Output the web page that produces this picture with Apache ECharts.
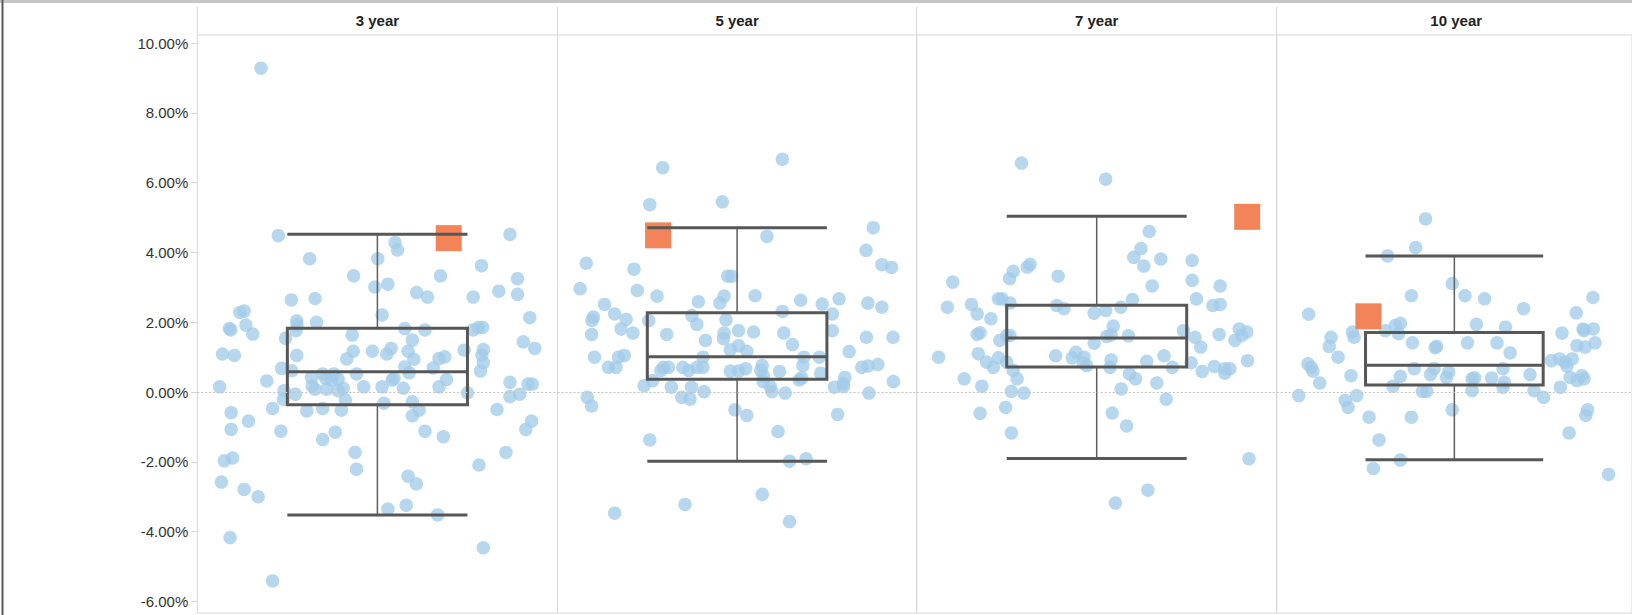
<!DOCTYPE html>
<html>
<head>
<meta charset="utf-8">
<title>Fund returns by horizon</title>
<script src="https://cdn.jsdelivr.net/npm/echarts@6/dist/echarts.min.js"></script>
<style>
  html, body { margin: 0; padding: 0; background: #ffffff; }
  #chart { width: 1632px; height: 615px; }
</style>
</head>
<body>
<div id="chart"></div>
<script>
// Panel titles, one per return horizon
const horizons = ['3 year', '5 year', '7 year', '10 year'];

// Y tick values (annualised return, %)
const yTickValues = [-6, -4, -2, 0, 2, 4, 6, 8, 10];

// Peer funds: [horizontal jitter position 0-100, return %]
const funds3y = [
  [17.7,9.28],[22.5,4.48],[86.8,4.52],[54.9,4.28],[55.6,4.07],[31.2,3.82],[50.1,3.82],[78.9,3.62],
  [43.4,3.33],[67.5,3.33],[88.9,3.25],[49.3,3.01],[52.9,3.09],[60.9,2.85],[63.9,2.72],[83.7,2.89],
  [88.9,2.80],[76.6,2.72],[26.1,2.64],[32.7,2.68],[11.8,2.28],[13.0,2.32],[92.3,2.13],[51.3,2.21],
  [27.6,2.04],[27.7,1.92],[27.4,1.76],[33.1,2.00],[8.9,1.82],[9.3,1.78],[13.5,1.92],[15.4,1.66],
  [24.5,1.54],[43.0,1.63],[57.6,1.82],[63.2,1.78],[59.7,1.49],[76.6,1.78],[78.0,1.85],[79.2,1.85],
  [90.5,1.44],[93.7,1.25],[7.0,1.09],[10.3,1.05],[27.6,1.05],[43.3,1.17],[41.5,0.95],[48.6,1.17],
  [52.6,1.09],[53.8,1.25],[58.5,1.17],[60.1,0.94],[67.1,0.96],[68.7,1.01],[65.5,0.69],[74.1,1.20],
  [79.4,1.22],[79.0,1.06],[79.4,0.84],[78.6,0.60],[57.6,0.72],[58.8,0.55],[23.4,0.68],[26.2,0.61],
  [19.3,0.32],[6.2,0.15],[31.7,0.42],[34.8,0.52],[37.9,0.52],[35.7,0.39],[37.3,0.34],[39.1,0.37],
  [44.2,0.52],[31.9,0.17],[32.7,0.08],[35.9,0.08],[39.1,0.04],[40.5,0.11],[46.2,0.15],[51.3,0.15],
  [54.1,0.34],[54.6,0.39],[57.2,0.11],[67.1,0.15],[69.2,0.36],[75.0,-0.02],[86.8,0.28],[91.8,0.23],
  [93.0,0.23],[89.5,-0.06],[86.8,-0.13],[24.1,0.04],[23.9,-0.21],[27.2,-0.06],[41.1,-0.23],[20.9,-0.47],
  [30.4,-0.54],[34.8,-0.47],[40.0,-0.52],[51.8,-0.32],[59.7,-0.28],[61.6,-0.52],[59.7,-0.68],[83.2,-0.50],
  [9.4,-0.59],[14.2,-0.83],[9.4,-1.07],[23.2,-1.12],[34.8,-1.36],[38.3,-1.15],[63.2,-1.12],[68.3,-1.28],
  [92.8,-0.83],[91.2,-1.07],[85.7,-1.73],[43.8,-1.73],[44.2,-2.21],[78.2,-2.09],[7.5,-1.97],[9.8,-1.89],
  [6.7,-2.58],[13.0,-2.79],[16.9,-3.00],[58.5,-2.41],[60.8,-2.63],[52.9,-3.35],[58.0,-3.24],[66.7,-3.52],
  [9.1,-4.17],[79.4,-4.46],[20.9,-5.41]
];

const funds5y = [
  [29.3,6.43],[62.6,6.67],[25.7,5.37],[45.9,5.45],[58.3,4.46],[87.9,4.71],[85.9,4.06],[90.3,3.65],
  [93.0,3.57],[8.0,3.69],[21.3,3.52],[6.3,2.96],[22.2,2.91],[27.7,2.75],[13.1,2.51],[39.2,2.59],
  [46.4,2.75],[45.2,2.55],[47.4,3.32],[48.5,3.32],[55.0,2.76],[67.7,2.63],[73.7,2.52],[78.4,2.67],
  [86.4,2.55],[90.3,2.43],[62.6,2.31],[76.5,2.24],[10.0,2.15],[15.9,2.24],[19.1,2.08],[37.4,2.19],
  [46.9,2.07],[9.6,2.05],[17.7,1.81],[21.0,1.69],[25.4,2.05],[38.8,1.94],[76.5,1.76],[9.5,1.65],
  [30.4,1.65],[41.2,1.48],[46.4,1.69],[46.2,1.53],[50.4,1.76],[54.6,1.72],[63.0,1.69],[65.4,1.36],
  [86.0,1.57],[93.4,1.57],[81.2,1.16],[10.3,1.00],[17.0,1.00],[18.6,1.05],[14.2,0.71],[16.3,0.71],
  [40.5,1.00],[48.1,1.21],[50.4,1.33],[52.7,1.17],[68.6,1.00],[72.9,1.00],[68.3,0.76],[73.3,0.54],
  [80.0,0.42],[84.7,0.71],[86.5,0.75],[89.2,0.79],[93.5,0.30],[29.5,0.71],[30.9,0.71],[28.8,0.62],
  [34.9,0.71],[36.5,0.62],[38.8,0.71],[40.5,0.71],[48.1,0.60],[50.4,0.60],[52.4,0.67],[57.0,0.76],
  [56.6,0.62],[57.3,0.47],[61.8,0.59],[57.3,0.30],[59.2,0.16],[59.7,0.01],[63.4,-0.03],[67.3,0.35],
  [68.0,0.40],[77.1,0.14],[79.6,0.16],[79.6,0.24],[86.7,-0.03],[24.1,0.18],[26.5,0.33],[31.7,0.14],
  [37.3,0.14],[40.8,0.01],[34.6,-0.15],[36.9,-0.20],[8.3,-0.15],[9.5,-0.40],[49.4,-0.51],[52.7,-0.67],
  [78.0,-0.64],[61.4,-1.13],[25.7,-1.37],[64.6,-1.98],[69.2,-1.91],[57.0,-2.93],[35.5,-3.22],[15.9,-3.47],
  [64.6,-3.71]
];

const funds7y = [
  [29.1,6.56],[52.5,6.10],[64.6,4.60],[62.3,4.11],[60.3,3.86],[63.1,3.61],[67.8,3.81],[76.5,3.77],
  [30.7,3.58],[31.5,3.66],[26.8,3.46],[25.8,3.25],[10.0,3.15],[39.3,3.32],[76.5,3.20],[65.4,3.04],
  [84.3,3.04],[8.5,2.43],[15.2,2.51],[16.8,2.24],[20.6,2.10],[22.7,2.67],[23.7,2.67],[25.9,2.55],
  [38.9,2.48],[40.9,2.39],[49.3,2.26],[52.5,2.34],[56.7,2.43],[59.9,2.65],[77.7,2.67],[82.3,2.48],
  [84.3,2.51],[54.6,1.89],[16.8,1.65],[17.6,1.70],[23.1,1.48],[25.0,1.62],[25.9,1.62],[6.1,1.00],
  [17.1,1.10],[19.4,0.86],[21.3,0.71],[22.7,0.98],[25.0,0.86],[26.8,0.62],[27.9,0.38],[13.2,0.38],
  [18.1,0.17],[26.3,0.02],[29.8,-0.03],[17.6,-0.61],[24.7,-0.44],[26.3,-1.17],[49.3,1.40],[52.8,1.59],
  [54.0,1.64],[58.8,1.61],[38.6,1.04],[44.2,1.14],[43.2,0.98],[46.5,1.00],[47.2,0.76],[46.3,0.83],
  [54.0,0.92],[53.7,0.71],[63.9,0.88],[68.7,1.04],[71.0,0.71],[59.1,0.52],[60.8,0.38],[66.7,0.26],
  [56.8,0.09],[69.3,-0.20],[54.3,-0.60],[58.3,-0.97],[74.1,1.76],[77.3,1.57],[78.9,1.29],[84.0,1.65],
  [89.6,1.81],[91.7,1.72],[88.4,1.48],[90.3,1.62],[76.2,0.84],[79.3,0.59],[82.7,0.73],[85.6,0.67],
  [87.0,0.67],[85.6,0.54],[91.9,0.90],[92.3,-1.91],[64.2,-2.81],[55.2,-3.18]
];

const funds10y = [
  [41.9,4.96],[39.1,4.14],[31.2,3.90],[49.4,3.11],[53.0,2.76],[58.5,2.67],[37.9,2.76],[69.5,2.39],
  [89.0,2.71],[84.3,2.27],[9.0,2.23],[34.8,1.97],[33.4,1.91],[34.3,1.67],[30.6,1.76],[56.2,1.94],
  [64.4,1.86],[21.3,1.72],[21.8,1.57],[15.3,1.57],[14.8,1.31],[17.3,1.00],[8.8,0.81],[9.7,0.71],
  [10.2,0.60],[12.1,0.26],[20.9,0.47],[22.5,-0.10],[19.3,-0.24],[20.1,-0.44],[6.2,-0.10],[26.0,-0.72],
  [37.9,-0.72],[28.8,-1.37],[34.8,-1.95],[27.2,-2.19],[49.4,-0.51],[38.2,1.41],[45.0,1.31],[44.6,1.27],
  [53.7,1.41],[62.0,1.41],[65.7,1.12],[38.7,0.67],[34.8,0.45],[32.7,0.17],[44.3,0.67],[43.3,0.50],
  [48.4,0.57],[47.8,0.42],[41.0,0.02],[42.2,0.02],[55.0,0.38],[55.7,0.41],[55.0,0.04],[60.5,0.40],
  [63.7,0.67],[64.1,0.28],[63.7,0.14],[71.3,0.50],[72.4,0.04],[75.1,-0.15],[80.3,1.69],[86.2,1.81],
  [89.1,1.81],[86.5,1.76],[84.5,1.33],[86.8,1.29],[89.6,1.41],[77.3,0.90],[79.6,0.95],[81.2,0.86],
  [81.7,0.74],[83.2,0.95],[82.6,0.42],[84.5,0.33],[85.9,0.47],[86.5,0.38],[79.8,0.14],[87.5,-0.51],
  [87.0,-0.67],[82.3,-1.17],[93.4,-2.36]
];

// Box plot summary per horizon: [lower whisker, Q1, median, Q3, upper whisker]
const boxStats = [
  [-3.52, -0.36, 0.58, 1.83, 4.52],
  [-1.98,  0.37, 1.01, 2.27, 4.71],
  [-1.90,  0.72, 1.55, 2.49, 5.04],
  [-1.94,  0.20, 0.77, 1.71, 3.90]
];

// Highlighted fund per horizon: [horizontal position 0-100, return %]
const highlighted = [[69.8, 4.41], [28.0, 4.49], [91.8, 5.02], [25.8, 2.17]];

// ---- layout ----
const panelLeft = [197.3, 557.5, 916.7, 1276.7];
const panelWidth = [360.2, 359.2, 360.0, 359.0];
const plotTop = 35;
const plotHeight = 578;
const yMin = -6.33;
const yMax = 10.23;
const FONT = '"Liberation Sans", Arial, Helvetica, sans-serif';

const fundSeries = [funds3y, funds5y, funds7y, funds10y];

const grid = panelLeft.map((l, i) => ({
  left: l, top: plotTop, width: panelWidth[i], height: plotHeight,
  show: true, borderColor: '#d8d8d8', borderWidth: 1, backgroundColor: 'transparent'
}));

const xAxis = panelLeft.map((l, i) => ({
  type: 'value', gridIndex: i, min: 0, max: 100, show: false
}));

const yAxis = panelLeft.map((l, i) => ({
  type: 'value', gridIndex: i, min: yMin, max: yMax,
  show: i === 0,
  axisLine: { show: false },
  splitLine: { show: false },
  axisTick: {
    show: true, customValues: yTickValues, length: 6,
    lineStyle: { color: '#d4d4d4', width: 1 }
  },
  axisLabel: {
    show: true, customValues: yTickValues, margin: 9,
    fontFamily: FONT, fontSize: 15, color: '#333333',
    formatter: v => v.toFixed(2) + '%'
  }
}));

// Box, whiskers and median drawn on the panel's own scales
function renderBox(params, api) {
  const lo = api.value(0), q1 = api.value(1), med = api.value(2), q3 = api.value(3), hi = api.value(4);
  const xl = 25, xr = 75, xc = 50;
  const p = (x, y) => api.coord([x, y]);
  const thick = { stroke: '#575757', lineWidth: 3, fill: null };
  const thin = { stroke: '#5e5e5e', lineWidth: 1.5, fill: null };
  const line = (a, b, style) => ({
    type: 'line',
    shape: { x1: a[0], y1: a[1], x2: b[0], y2: b[1] },
    style: style
  });
  const tl = p(xl, q3), br = p(xr, q1);
  return {
    type: 'group',
    children: [
      line(p(xc, hi), p(xc, q3), thin),
      line(p(xc, q1), p(xc, lo), thin),
      line(p(xl, hi), p(xr, hi), thick),
      line(p(xl, lo), p(xr, lo), thick),
      {
        type: 'rect',
        shape: { x: tl[0], y: tl[1], width: br[0] - tl[0], height: br[1] - tl[1] },
        style: thick
      },
      line(p(xl, med), p(xr, med), thick)
    ]
  };
}

const series = [];
fundSeries.forEach((data, i) => {
  series.push({
    type: 'scatter', xAxisIndex: i, yAxisIndex: i,
    data: data, symbol: 'circle', symbolSize: 13.5,
    itemStyle: { color: 'rgb(160,203,232)', opacity: 0.76 },
    z: 2, silent: true,
    markLine: {
      silent: true, symbol: ['none', 'none'], animation: false,
      label: { show: false },
      lineStyle: { color: '#c2c2c2', type: [2, 2], width: 1 },
      data: [{ yAxis: 0 }]
    }
  });
  series.push({
    type: 'scatter', xAxisIndex: i, yAxisIndex: i,
    data: [highlighted[i]], symbol: 'rect', symbolSize: 26,
    itemStyle: { color: '#f3845a', opacity: 1 }, z: 3, silent: true
  });
  series.push({
    type: 'custom', xAxisIndex: i, yAxisIndex: i,
    data: [boxStats[i]], renderItem: renderBox,
    encode: { x: [], y: [0, 1, 2, 3, 4] },
    clip: false, z: 4, silent: true
  });
});

// Frame pieces and panel headers
const graphic = [
  { type: 'rect', shape: { x: 0, y: 0, width: 1632, height: 3 }, style: { fill: '#c6c6c6' }, silent: true },
  { type: 'rect', shape: { x: 1.5, y: 0, width: 2, height: 615 }, style: { fill: '#5a5a5a' }, silent: true }
];
panelLeft.concat([panelLeft[3] + panelWidth[3]]).forEach(x => {
  graphic.push({
    type: 'line', shape: { x1: x, y1: 7, x2: x, y2: plotTop },
    style: { stroke: '#d8d8d8', lineWidth: 1 }, silent: true
  });
});
horizons.forEach((name, i) => {
  graphic.push({
    type: 'text', x: panelLeft[i] + panelWidth[i] / 2, y: 20,
    style: {
      text: name, font: 'bold 15px ' + FONT, fill: '#222222',
      textAlign: 'center', textVerticalAlign: 'middle'
    },
    silent: true
  });
});

const chart = echarts.init(document.getElementById('chart'), null, { renderer: 'svg' });
chart.setOption({
  animation: false,
  backgroundColor: '#ffffff',
  grid: grid,
  xAxis: xAxis,
  yAxis: yAxis,
  series: series,
  graphic: graphic
});
</script>
</body>
</html>
